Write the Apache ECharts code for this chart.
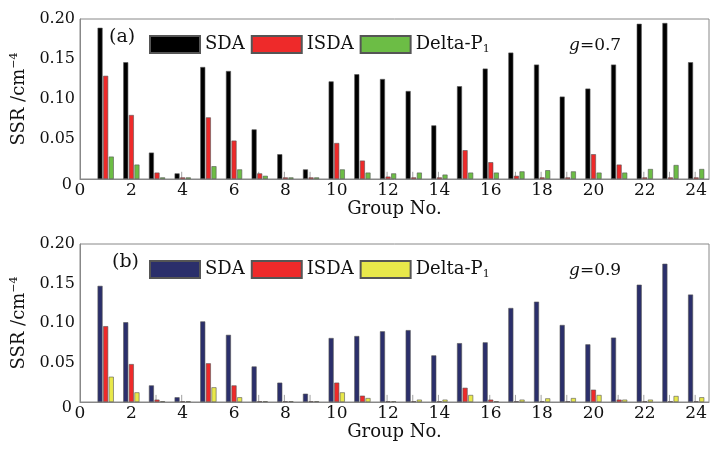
<!DOCTYPE html>
<html><head><meta charset="utf-8">
<script src="https://cdn.jsdelivr.net/npm/echarts@6/dist/echarts.min.js"></script>
<style>html,body{margin:0;padding:0;background:#fff}#c{width:712px;height:452px}</style>
</head><body><div id="c"></div>
<script>
const groups = [1,2,3,4,5,6,7,8,9,10,11,12,13,14,15,16,17,18,19,20,21,22,23,24];
const xTicks = [0,2,4,6,8,10,12,14,16,18,20,22,24];
const yTicks = [0,0.05,0.10,0.15,0.20];
// panel (a) g=0.7
const sdaA   = [0.189,0.146,0.033,0.007,0.140,0.135,0.062,0.031,0.012,0.122,0.131,0.125,0.110,0.067,0.116,0.138,0.158,0.143,0.103,0.113,0.143,0.194,0.195,0.146];
const isdaA  = [0.129,0.080,0.008,0.002,0.077,0.048,0.007,0.002,0.002,0.045,0.023,0.003,0.002,0.002,0.036,0.021,0.004,0.002,0.002,0.031,0.018,0.002,0.002,0.002];
const deltaA = [0.028,0.018,0.002,0.002,0.016,0.012,0.004,0.002,0.002,0.012,0.008,0.007,0.008,0.0055,0.008,0.008,0.0095,0.011,0.0095,0.008,0.008,0.0125,0.0175,0.0125];
// thin grey error lines (panel a), 0 = none
const errA   = [0,0,0,0.009,0,0,0.009,0.009,0.009,0,0,0.009,0.009,0.009,0,0,0.009,0.009,0.009,0,0,0.009,0.009,0.009];
// panel (b) g=0.9
const sdaB   = [0.147,0.101,0.021,0.006,0.102,0.085,0.045,0.0245,0.0105,0.081,0.0835,0.0895,0.091,0.059,0.0745,0.0755,0.119,0.127,0.0975,0.073,0.0815,0.1485,0.175,0.136];
const isdaB  = [0.096,0.048,0.003,0.001,0.049,0.021,0.001,0.001,0.001,0.0245,0.008,0.001,0.001,0.001,0.018,0.003,0.001,0.001,0.001,0.0156,0.003,0.001,0.001,0.001];
const deltaB = [0.032,0.0122,0.001,0.001,0.0186,0.006,0.001,0.001,0.001,0.0122,0.005,0.001,0.003,0.003,0.0089,0.001,0.003,0.0046,0.005,0.0089,0.003,0.003,0.0076,0.006];
const errB   = [0,0,0.009,0.009,0,0,0.009,0.009,0.009,0,0,0.009,0.009,0.009,0,0.009,0.009,0.009,0.009,0,0.009,0.009,0.009,0.009];
const legendNames = ['SDA','ISDA','Delta-P1'];
const colorsA = ['#000000','#ee2a2a','#6cbd45'];
const colorsB = ['#2b2f6b','#ee2a2a','#e8e84a'];

const FONT = 'DejaVu Serif';
const chart = echarts.init(document.getElementById('c'));
const pair = arr => arr.map((v,i)=>[groups[i], v]);

function xAxis(gi){
  return {gridIndex:gi,type:'value',min:0,max:24.5,interval:2,
    axisLine:{show:true,lineStyle:{color:'#888'}},axisTick:{show:false},splitLine:{show:false},
    axisLabel:{color:'#111',fontFamily:FONT,fontSize:17,margin:3,
      formatter:v=>xTicks.includes(v)?String(v):''},
    name:'Group No.',nameLocation:'middle',nameGap:21,
    nameTextStyle:{color:'#111',fontFamily:FONT,fontSize:18}};
}
function yAxis(gi){
  return {gridIndex:gi,type:'value',min:0,max:0.2,interval:0.05,
    axisLine:{show:true,lineStyle:{color:'#888'}},axisTick:{show:false},splitLine:{show:false},
    axisLabel:{color:'#111',fontFamily:FONT,fontSize:16,margin:5,
      formatter:v=>{const t=yTicks.find(y=>Math.abs(y-v)<1e-9);return t===0?'{z|0}':t.toFixed(2);},
      rich:{z:{fontFamily:FONT,fontSize:16,color:'#111',padding:[12,3,0,0]}}},
    name:'SSR /cm{s|−4}',nameLocation:'middle',nameGap:47,
    nameTextStyle:{color:'#111',fontFamily:FONT,fontSize:18,
      rich:{s:{fontFamily:FONT,fontSize:11,color:'#111',verticalAlign:'top',padding:[0,0,10,0]}}}};
}
function series(gi,data,color,name){
  return {type:'bar',name:name,xAxisIndex:gi,yAxisIndex:gi,data:pair(data),
    barWidth:5,barGap:'12%',
    itemStyle:{color:color,borderColor:'#555',borderWidth:0.6}};
}
function errSeries(gi,data){
  return {type:'custom',xAxisIndex:gi,yAxisIndex:gi,z:1,silent:true,
    data:pair(data).filter(d=>d[1]>0),
    renderItem:(params,api)=>{
      const p0 = api.coord([api.value(0),0]);
      const p1 = api.coord([api.value(0),api.value(1)]);
      return {type:'line',shape:{x1:p0[0]-1,y1:p0[1],x2:p1[0]-1,y2:p1[1]},
        style:{stroke:'#a0a0a0',lineWidth:1}};
    }};
}
function legend(top,suffix){
  return {top:top,left:149,padding:0,itemWidth:50,itemHeight:17,itemGap:6,icon:'rect',
    data:legendNames.map(n=>({name:n+suffix})),
    textStyle:{fontFamily:FONT,fontSize:18,color:'#111',
      rich:{sub:{fontFamily:FONT,fontSize:11,color:'#111',verticalAlign:'bottom',padding:[10,0,0,0]}}},
    formatter:n=>n.trim()==='Delta-P1'?'Delta-P{sub|1}':n.trim(),
    selectedMode:false};
}
const seriesList = [
  series(0,sdaA,colorsA[0],legendNames[0]),
  series(0,isdaA,colorsA[1],legendNames[1]),
  series(0,deltaA,colorsA[2],legendNames[2]),
  series(1,sdaB,colorsB[0],legendNames[0]+' '),
  series(1,isdaB,colorsB[1],legendNames[1]+' '),
  series(1,deltaB,colorsB[2],legendNames[2]+' '),
  errSeries(0,errA),
  errSeries(1,errB)
];

function label(x,y,text,size){
  return {type:'text',left:x,top:y,style:{text:text,fontFamily:FONT,fontSize:size,fill:'#111',
    rich:{i:{fontFamily:FONT,fontSize:size,fontStyle:'italic',fill:'#111'}}}};
}

chart.setOption({
  animation:false,
  grid:[
    {left:80,top:19,width:629,height:160,show:true,borderColor:'#888',borderWidth:1,containLabel:false},
    {left:80,top:244,width:629,height:158,show:true,borderColor:'#888',borderWidth:1,containLabel:false}
  ],
  xAxis:[xAxis(0),xAxis(1)],
  yAxis:[yAxis(0),yAxis(1)],
  legend:[legend(35,''),legend(260,' ')],
  series:seriesList,
  graphic:[
    label(109,28,'(a)',19),
    label(569,37,'{i|g}=0.7',17),
    label(112,253,'(b)',19),
    label(569,262,'{i|g}=0.9',17)
  ]
});
</script></body></html>
